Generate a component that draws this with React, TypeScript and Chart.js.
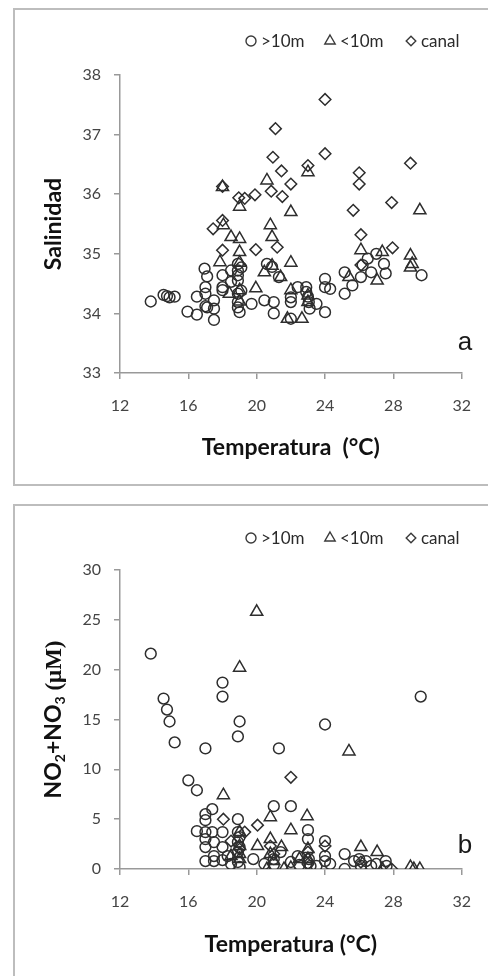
import React, { useEffect, useRef } from "react";
import { Chart, registerables } from "chart.js";
Chart.register(...registerables);

// ---------- DATA ----------
const tempTicks = [12, 16, 20, 24, 28, 32];
const salTicks = [33, 34, 35, 36, 37, 38];
const nitTicks = [0, 5, 10, 15, 20, 25, 30];
const seriesLabels = [">10m", "<10m", "canal"];

// Panel a: Temperatura vs Salinidad
const aDeepT = [13.8, 14.55, 14.75, 14.9, 15.2, 15.95, 16.5, 16.5, 16.95, 17.1, 17.0, 17.0, 17.0, 17.1, 17.5, 17.5, 17.5, 18.0, 18.0, 18.0, 18.5, 18.5, 18.9, 18.9, 18.9, 18.9, 18.9, 18.9, 18.9, 19.0, 19.1, 19.1, 19.7, 20.45, 20.6, 20.9, 21.0, 21.0, 21.3, 22.0, 22.0, 22.0, 22.4, 22.9, 22.9, 23.0, 23.05, 23.1, 23.5, 24.0, 24.0, 24.0, 24.3, 25.15, 25.15, 25.6, 26.1, 26.2, 26.5, 26.7, 27.0, 27.45, 27.55, 29.65];
const aDeepS = [34.2, 34.31, 34.29, 34.27, 34.28, 34.03, 33.98, 34.28, 34.75, 34.62, 34.44, 34.33, 34.12, 34.1, 34.22, 34.08, 33.89, 34.64, 34.44, 34.39, 34.72, 34.53, 34.83, 34.72, 34.64, 34.55, 34.33, 34.19, 34.1, 34.02, 34.77, 34.38, 34.16, 34.22, 34.83, 34.78, 34.19, 34.0, 34.61, 34.27, 34.19, 33.91, 34.44, 34.44, 34.36, 34.28, 34.19, 34.08, 34.16, 34.58, 34.44, 34.02, 34.41, 34.69, 34.33, 34.47, 34.61, 34.81, 34.92, 34.69, 35.0, 34.83, 34.67, 34.64];
const aShallowT = [18.0, 18.05, 18.5, 19.0, 19.0, 19.0, 19.0, 17.85, 18.4, 19.0, 19.95, 20.6, 20.8, 20.9, 20.45, 20.9, 21.4, 22.0, 22.0, 22.0, 21.8, 22.65, 23.0, 23.0, 25.4, 26.1, 27.05, 27.35, 29.0, 29.1, 29.0, 29.55, 19.0, 23.0];
const aShallowS = [36.12, 35.48, 35.28, 35.79, 35.25, 35.03, 34.39, 34.86, 34.33, 34.2, 34.42, 36.23, 35.48, 35.28, 34.69, 34.8, 34.61, 35.7, 34.85, 34.39, 33.91, 33.91, 36.37, 34.19, 34.61, 35.06, 34.55, 35.03, 34.97, 34.83, 34.77, 35.73, 34.85, 34.3];
const aCanalT = [24.0, 21.1, 24.0, 20.95, 29.0, 23.0, 21.45, 26.0, 26.0, 22.0, 20.85, 19.9, 18.95, 19.3, 21.5, 18.0, 27.9, 25.65, 18.0, 17.45, 26.1, 21.2, 19.95, 18.0, 27.95, 26.1];
const aCanalS = [37.59, 37.1, 36.68, 36.62, 36.52, 36.48, 36.39, 36.36, 36.17, 36.17, 36.05, 35.99, 35.94, 35.93, 35.96, 36.13, 35.86, 35.73, 35.56, 35.42, 35.32, 35.11, 35.07, 35.06, 35.1, 34.81];

// Panel b: Temperatura vs NO2+NO3
const bDeepT = [13.8, 14.55, 14.75, 14.9, 15.2, 16.0, 16.5, 17.0, 18.0, 18.0, 19.0, 18.9, 21.3, 24.0, 29.6, 17.4, 17.0, 17.0, 16.5, 17.0, 17.4, 17.0, 17.0, 17.0, 17.5, 17.5, 18.0, 18.0, 18.3, 18.9, 18.9, 18.9, 18.9, 18.9, 19.0, 19.8, 20.45, 21.0, 22.0, 21.0, 21.4, 22.0, 22.4, 23.0, 23.0, 23.05, 23.15, 23.5, 24.0, 24.0, 24.3, 25.15, 25.15, 25.7, 26.1, 26.4, 26.7, 27.55, 27.6, 17.5, 18.0, 19.0, 19.0, 18.5, 21.0, 22.5, 23.0, 24.0, 26.0, 27.0];
const bDeepN = [21.6, 17.1, 16.0, 14.8, 12.7, 8.9, 7.9, 12.1, 18.7, 17.3, 14.8, 13.3, 12.1, 14.5, 17.3, 6.0, 5.5, 4.9, 3.8, 3.7, 3.7, 3.0, 2.2, 0.8, 1.3, 0.8, 3.7, 2.2, 1.3, 5.0, 3.7, 2.7, 1.7, 0.7, 0.2, 1.0, 0.5, 6.3, 6.3, 1.0, 1.7, 0.7, 1.3, 3.9, 3.0, 1.0, 0.3, 0.3, 2.8, 1.3, 0.5, 1.5, 0.0, 0.8, 0.3, 0.8, 0.3, 0.8, 0.3, 2.7, 0.9, 2.2, 3.2, 0.5, 0.4, 0.4, 0.6, 0.8, 1.0, 0.5];
const bShallowT = [20.0, 19.0, 18.05, 20.8, 22.95, 22.0, 25.4, 19.0, 19.0, 20.05, 20.8, 21.45, 20.6, 21.6, 22.0, 26.1, 27.05, 27.35, 29.0, 29.55, 29.2, 18.5, 23.0, 19.0, 19.0, 20.8, 21.0, 23.0, 22.5];
const bShallowN = [25.8, 20.2, 7.4, 5.2, 5.3, 3.9, 11.8, 3.7, 2.3, 2.3, 3.0, 2.2, 0.0, 0.0, 0.1, 2.2, 1.7, 0.0, 0.2, 0.0, 0.0, 1.3, 1.0, 1.0, 1.5, 1.5, 0.8, 2.0, 1.0];
const bCanalT = [22.0, 20.05, 18.05, 19.3, 18.5, 20.8, 27.9, 26.1, 24.0, 23.0, 19.0, 21.0, 23.0];
const bCanalN = [9.2, 4.4, 5.0, 3.7, 2.8, 2.3, 0.0, 0.7, 2.3, 1.7, 2.0, 1.5, 0.5];

// ---------- STYLE ----------
const MARK = "#2e2e2e";
const TICK_COLOR = "#444444";
const AXIS_COLOR = "#999999";
const FONT = "Lato";

const zip = (xs: number[], ys: number[]) => xs.map((x, i) => ({ x, y: ys[i] }));

function drawShape(ctx: CanvasRenderingContext2D, style: string, x: number, y: number, r: number) {
  ctx.beginPath();
  if (style === "circle") {
    ctx.arc(x, y, r, 0, Math.PI * 2);
  } else if (style === "triangle") {
    ctx.moveTo(x, y - r);
    ctx.lineTo(x + r * 0.866, y + r * 0.5);
    ctx.lineTo(x - r * 0.866, y + r * 0.5);
    ctx.closePath();
  } else {
    ctx.moveTo(x - r, y);
    ctx.lineTo(x, y - r);
    ctx.lineTo(x + r, y);
    ctx.lineTo(x, y + r);
    ctx.closePath();
  }
  ctx.stroke();
}

type PanelOpts = {
  legendY: number;
  letter: string;
  letterY: number;
  customYTitle?: boolean;
};

function decorPlugin(o: PanelOpts) {
  return {
    id: "decor",
    afterDraw(chart: any) {
      const ctx: CanvasRenderingContext2D = chart.ctx;
      ctx.save();
      // legend
      const styles = ["circle", "triangle", "rectRot"];
      const radii = [5, 6, 4.8];
      const markX = [251, 330, 411];
      ctx.strokeStyle = "#3a3a3a";
      ctx.lineWidth = 1.4;
      ctx.font = `17px ${FONT}`;
      ctx.fillStyle = "#2a2a2a";
      ctx.textBaseline = "middle";
      ctx.textAlign = "left";
      styles.forEach((s, i) => {
        drawShape(ctx, s, markX[i], o.legendY, radii[i]);
        ctx.fillText(seriesLabels[i], markX[i] + 10, o.legendY + 1);
      });
      // panel letter
      ctx.font = `26px "Liberation Sans"`;
      ctx.fillStyle = "#1a1a1a";
      ctx.textAlign = "center";
      ctx.fillText(o.letter, 465, o.letterY);
      // custom y title with subscripts
      if (o.customYTitle) {
        const ca = chart.chartArea;
        ctx.translate(53, (ca.top + ca.bottom) / 2);
        ctx.rotate(-Math.PI / 2);
        const parts = [
          { t: "NO", f: `bold 23px ${FONT}`, dy: 0 },
          { t: "2", f: `bold 14px ${FONT}`, dy: 4 },
          { t: "+NO", f: `bold 23px ${FONT}`, dy: 0 },
          { t: "3", f: `bold 14px ${FONT}`, dy: 4 },
          { t: " (\u03bcM)", f: `bold 23px "Liberation Serif"`, dy: 0 },
        ];
        let total = 0;
        parts.forEach((p) => {
          ctx.font = p.f;
          total += ctx.measureText(p.t).width;
        });
        let x = -total / 2;
        ctx.fillStyle = "#111";
        ctx.textBaseline = "alphabetic";
        ctx.textAlign = "left";
        parts.forEach((p) => {
          ctx.font = p.f;
          ctx.fillText(p.t, x, 8 + p.dy);
          x += ctx.measureText(p.t).width;
        });
      }
      ctx.restore();
    },
  };
}

function makeDatasets(dT: number[], dV: number[], sT: number[], sV: number[], cT: number[], cV: number[]) {
  const base = { backgroundColor: "rgba(0,0,0,0)", borderColor: MARK, borderWidth: 1.5, showLine: false };
  return [
    { ...base, label: seriesLabels[0], data: zip(dT, dV), pointStyle: "circle", pointRadius: 5.4 },
    { ...base, label: seriesLabels[1], data: zip(sT, sV), pointStyle: "triangle", pointRadius: 7 },
    { ...base, label: seriesLabels[2], data: zip(cT, cV), pointStyle: "rectRot", pointRadius: 5.8 },
  ];
}

function scaleCommon() {
  return {
    grid: { drawOnChartArea: false, drawTicks: true, tickLength: 6, color: AXIS_COLOR, lineWidth: 1.5 },
    border: { display: true, color: AXIS_COLOR, width: 1.5 },
  };
}

function buildConfig(panel: "a" | "b") {
  const isA = panel === "a";
  const datasets = isA
    ? makeDatasets(aDeepT, aDeepS, aShallowT, aShallowS, aCanalT, aCanalS)
    : makeDatasets(bDeepT, bDeepN, bShallowT, bShallowN, bCanalT, bCanalN);
  const yTicks = isA ? salTicks : nitTicks;
  const canvasH = isA ? 490 : 486;
  const areaBottom = isA ? 373 : 379;
  const areaTop = isA ? 75 : 80;
  return {
    type: "scatter",
    data: { datasets },
    options: {
      responsive: false,
      animation: false,
      events: [],
      layout: { padding: { top: areaTop, right: 21, bottom: 0, left: 0 } },
      plugins: { legend: { display: false }, tooltip: { enabled: false }, title: { display: false } },
      scales: {
        x: {
          type: "linear",
          min: tempTicks[0],
          max: tempTicks[tempTicks.length - 1],
          afterBuildTicks: (s: any) => {
            s.ticks = tempTicks.map((v) => ({ value: v }));
          },
          ticks: { color: TICK_COLOR, font: { family: FONT, size: 16 }, padding: 17, maxRotation: 0, autoSkip: false },
          ...scaleCommon(),
          title: {
            display: true,
            text: isA ? "Temperatura  (°C)" : "Temperatura (°C)",
            color: "#111",
            font: { family: FONT, size: 23, weight: "bold" },
            padding: { top: 0, bottom: isA ? 29 : 18 },
          },
          afterFit: (s: any) => {
            s.height = canvasH - areaBottom;
          },
        },
        y: {
          type: "linear",
          min: yTicks[0],
          max: yTicks[yTicks.length - 1],
          afterBuildTicks: (s: any) => {
            s.ticks = yTicks.map((v) => ({ value: v }));
          },
          ticks: { color: TICK_COLOR, font: { family: FONT, size: 16 }, padding: 13, autoSkip: false },
          ...scaleCommon(),
          title: {
            display: isA,
            text: "Salinidad",
            color: "#111",
            font: { family: FONT, size: 23, weight: "bold" },
            padding: { top: 40, bottom: 0 },
          },
          afterFit: (s: any) => {
            s.width = 120;
          },
        },
      },
    },
    plugins: [
      decorPlugin(
        isA
          ? { legendY: 41, letter: "a", letterY: 343 }
          : { legendY: 48, letter: "b", letterY: 356, customYTitle: true }
      ),
    ],
  };
}

function Panel({ panel, top, height }: { panel: "a" | "b"; top: number; height: number }) {
  const ref = useRef<HTMLCanvasElement | null>(null);
  useEffect(() => {
    if (!ref.current) return;
    const chart = new Chart(ref.current, buildConfig(panel) as any);
    return () => chart.destroy();
  }, [panel]);
  return (
    <canvas
      ref={ref}
      width={488}
      height={height}
      style={{ position: "absolute", left: 0, top, width: 488, height }}
    />
  );
}

export default function App() {
  return (
    <div
      style={{
        position: "fixed",
        left: 0,
        top: 0,
        width: 488,
        height: 976,
        overflow: "hidden",
        background: "#fff",
      }}
    >
      <div
        style={{
          position: "absolute",
          left: 13,
          top: 8,
          width: 490,
          height: 474,
          border: "2px solid #bdbdbd",
        }}
      />
      <div
        style={{
          position: "absolute",
          left: 13,
          top: 504,
          width: 490,
          height: 490,
          border: "2px solid #bdbdbd",
        }}
      />
      <Panel panel="a" top={0} height={490} />
      <Panel panel="b" top={490} height={486} />
    </div>
  );
}
